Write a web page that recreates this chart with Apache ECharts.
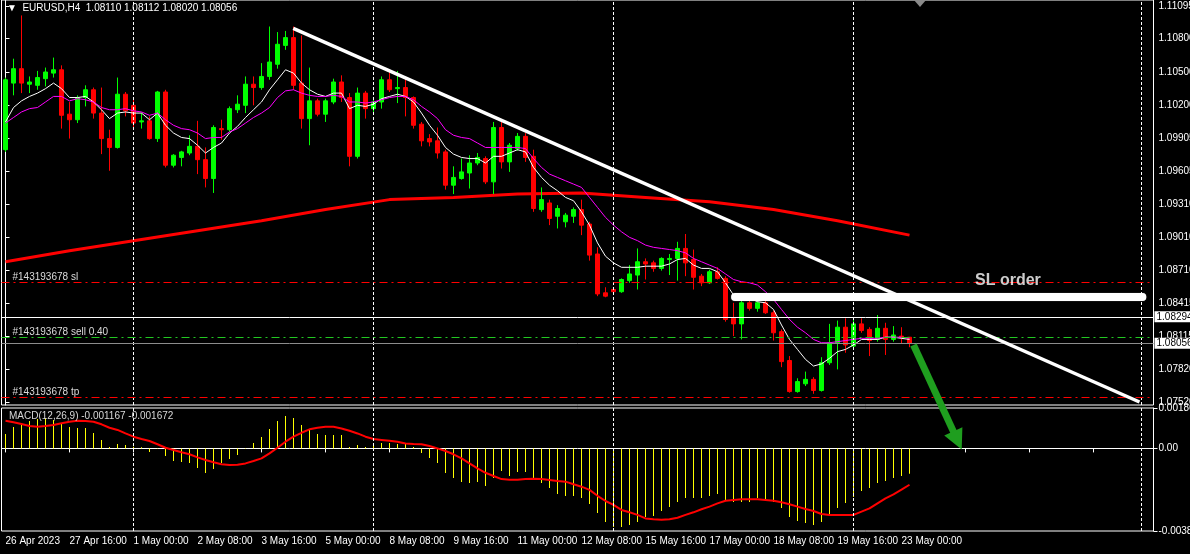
<!DOCTYPE html>
<html><head><meta charset="utf-8">
<script src="https://cdn.jsdelivr.net/npm/echarts@6/dist/echarts.min.js"></script>
<style>html,body{margin:0;padding:0;background:#000;overflow:hidden;}#c{width:1190px;height:554px;}</style>
</head><body><div id="c"></div>
<script>
// ---------------- DATA ----------------
const symbolName = 'EURUSD,H4';
const slotCount = 144; // H4 bar slots shown on the time axis (data + empty right margin)
const timeTickLabels = ['26 Apr 2023','27 Apr 16:00','1 May 00:00','2 May 08:00','3 May 16:00','5 May 00:00','8 May 08:00','9 May 16:00','11 May 00:00','12 May 08:00','15 May 16:00','17 May 00:00','18 May 08:00','19 May 16:00','23 May 00:00'];
const priceTicks = [1.11095,1.10800,1.10500,1.10200,1.09905,1.09605,1.09310,1.09010,1.08710,1.08415,1.08115,1.07820,1.07520];
const macdTicks = [0.00186, 0, -0.00380];

const opens = [1.0980,1.1040,1.1053,1.1039,1.1038,1.1044,1.1049,1.1052,1.1012,1.1007,
1.1027,1.1034,1.1013,1.0990,1.0982,1.1030,1.1020,1.1005,1.1006,1.0990,
1.1032,1.0966,1.0973,1.0977,1.0983,1.0971,1.0954,1.0999,1.0998,1.1016,
1.1020,1.1039,1.1036,1.1046,1.1057,1.1074,1.1081,1.1040,1.1008,1.1024,
1.1012,1.1023,1.1041,1.1027,1.0974,1.1031,1.1017,1.1023,1.1043,1.1035,
1.1036,1.1027,1.1003,1.0990,1.0988,1.0978,1.0948,1.0954,1.0959,1.0968,
1.0972,1.0951,1.1000,1.0969,1.0981,1.0992,1.0974,1.0926,1.0932,1.0920,
1.0915,1.0920,1.0926,1.0913,1.0886,1.0851,1.0854,1.0852,1.0862,1.0867,
1.0879,1.0878,1.0873,1.0881,1.0882,1.0891,1.0881,1.0866,1.0860,1.0870,
1.0864,1.0828,1.0823,1.0842,1.0837,1.0842,1.0833,1.0816,1.0790,1.0762,
1.0769,1.0773,1.0763,1.0788,1.0806,1.0820,1.0803,1.0823,1.0818,1.0809,
1.0819,1.0809,1.0812,1.08110];
const closes = [1.1043,1.1053,1.1040,1.1041,1.1045,1.1050,1.1052,1.1011,1.1007,1.1027,
1.1034,1.1013,1.0990,1.0982,1.1030,1.1015,1.1004,1.1006,1.0990,1.1032,
1.0966,1.0975,1.0978,1.0983,1.0971,1.0954,1.1000,1.0998,1.1017,1.1021,
1.1039,1.1036,1.1046,1.1059,1.1075,1.1081,1.1038,1.1008,1.1024,1.1012,
1.1024,1.1041,1.1027,1.0974,1.1031,1.1017,1.1023,1.1043,1.1034,1.1036,
1.1027,1.1002,1.0988,1.0987,1.0977,1.0948,1.0955,1.0960,1.0968,1.0973,
1.0951,1.1000,1.0969,1.0984,1.0992,1.0973,1.0927,1.0935,1.0918,1.0927,
1.0921,1.0926,1.0912,1.0885,1.0850,1.0848,1.0852,1.0863,1.0868,1.0879,
1.0877,1.0873,1.0882,1.0882,1.0891,1.0878,1.0865,1.0860,1.0870,1.0864,
1.0827,1.0823,1.0842,1.0837,1.0842,1.0833,1.0815,1.0789,1.0762,1.0771,
1.0773,1.0763,1.0788,1.0806,1.0820,1.0804,1.0823,1.0817,1.0808,1.0819,
1.0809,1.0813,1.0811,1.08056];
const highs = [1.1045,1.1062,1.1101,1.1046,1.1051,1.1054,1.1063,1.1056,1.1023,1.1029,
1.1038,1.1036,1.1036,1.0998,1.1045,1.1032,1.1025,1.1013,1.1010,1.1033,
1.1034,1.0976,1.0979,1.0993,1.1006,1.0982,1.1002,1.1007,1.1019,1.1029,
1.1046,1.1046,1.1058,1.1091,1.1086,1.1087,1.1091,1.1083,1.1054,1.1026,
1.1026,1.1044,1.1047,1.1031,1.1036,1.1033,1.1025,1.1046,1.1050,1.1051,
1.1045,1.1028,1.1005,1.0994,1.1000,1.0980,1.0965,1.0972,1.0975,1.0977,
1.0974,1.1005,1.1005,1.0986,1.0995,1.0995,1.0980,1.0946,1.0935,1.0930,
1.0923,1.0928,1.0935,1.0915,1.0892,1.0856,1.0856,1.0864,1.0876,1.0891,
1.0882,1.0880,1.0883,1.0886,1.0897,1.0904,1.0890,1.0868,1.0872,1.0874,
1.0866,1.0842,1.0845,1.0845,1.0845,1.0845,1.0835,1.0818,1.0794,1.0774,
1.0780,1.0775,1.0793,1.0823,1.0826,1.0828,1.0827,1.0828,1.0820,1.0831,
1.0824,1.0821,1.0820,1.08112];
const lows = [1.0978,1.1029,1.1031,1.1031,1.1034,1.1037,1.1045,1.0999,1.0990,1.1004,
1.1019,1.1008,1.0976,1.0961,1.0981,1.1010,1.0999,1.0999,1.0989,1.0987,
1.0964,1.0964,1.0965,1.0975,1.0958,1.0946,1.0941,1.0989,1.0996,1.1013,
1.1013,1.1020,1.1034,1.1043,1.1053,1.1070,1.1034,1.0999,1.0984,1.1010,
1.1005,1.1021,1.1023,1.0965,1.0972,1.1008,1.1014,1.1017,1.1032,1.1022,
1.1010,1.0999,1.0983,1.0983,1.0972,1.0944,1.0940,1.0953,1.0945,1.0966,
1.0949,1.0940,1.0963,1.0960,1.0979,1.0969,1.0924,1.0924,1.0912,1.0909,
1.0910,1.0914,1.0903,1.0880,1.0848,1.0847,1.0850,1.0851,1.0860,1.0854,
1.0863,1.0870,1.0871,1.0867,1.0862,1.0866,1.0854,1.0857,1.0859,1.0863,
1.0825,1.0812,1.0809,1.0835,1.0834,1.0832,1.0808,1.0784,1.0761,1.0761,
1.0767,1.0760,1.0762,1.0786,1.0782,1.0797,1.0801,1.0815,1.0794,1.0807,
1.0795,1.0807,1.0805,1.08020];

const fastMA = [1.1005,1.1018,1.1024,1.1028,1.1031,1.1035,1.1040,1.1035,1.1027,1.1027,
1.1028,1.1023,1.1016,1.1008,1.1013,1.1014,1.1013,1.1013,1.1007,1.1013,
1.1002,1.0995,1.0991,1.0990,1.0984,1.0977,1.0982,1.0986,1.0995,1.1001,
1.1009,1.1016,1.1023,1.1034,1.1043,1.1052,1.1049,1.1040,1.1034,1.1030,
1.1028,1.1031,1.1031,1.1017,1.1020,1.1019,1.1021,1.1026,1.1028,1.1030,
1.1028,1.1023,1.1013,1.1002,1.0993,1.0982,1.0976,1.0973,1.0972,1.0972,
1.0968,1.0974,1.0974,1.0977,1.0980,1.0978,1.0964,1.0955,1.0948,1.0943,
1.0937,1.0934,1.0924,1.0912,1.0896,1.0884,1.0878,1.0874,1.0874,1.0874,
1.0875,1.0875,1.0875,1.0877,1.0881,1.0882,1.0876,1.0873,1.0873,1.0870,
1.0860,1.0849,1.0846,1.0846,1.0843,1.0842,1.0836,1.0822,1.0809,1.0800,
1.0791,1.0785,1.0787,1.0792,1.0798,1.0800,1.0804,1.0809,1.0809,1.0809,
1.0811,1.0811,1.0810,1.0809];
const slowMA = [1.1004,1.1009,1.1014,1.1017,1.1018,1.1023,1.1028,1.1028,1.1024,1.1026,
1.1025,1.1023,1.1018,1.1016,1.1016,1.1017,1.1015,1.1014,1.1011,1.1013,
1.1007,1.1002,1.0999,1.0998,1.0995,1.0990,1.0991,1.0991,1.0996,1.0999,
1.1004,1.1009,1.1013,1.1018,1.1027,1.1033,1.1034,1.1031,1.1029,1.1028,
1.1028,1.1029,1.1028,1.1023,1.1023,1.1022,1.1023,1.1025,1.1027,1.1028,
1.1028,1.1025,1.1019,1.1014,1.1008,1.0998,1.0993,1.0991,1.0990,1.0986,
1.0982,1.0982,1.0982,1.0982,1.0982,1.0981,1.0972,1.0964,1.0958,1.0955,
1.0952,1.0949,1.0946,1.0937,1.0928,1.0919,1.0912,1.0906,1.0901,1.0898,
1.0894,1.0892,1.0891,1.0890,1.0889,1.0887,1.0882,1.0879,1.0876,1.0873,
1.0868,1.0863,1.0861,1.0860,1.0858,1.0852,1.0845,1.0836,1.0827,1.0820,
1.0815,1.0809,1.0806,1.0806,1.0807,1.0808,1.0809,1.0810,1.0810,1.0810,
1.0811,1.0811,1.0811,1.0810];
const ma200Bars = [0,8,16,24,32,40,48,56,64,72,80,88,96,104,113];
const ma200Vals = [1.0879,1.0889,1.0898,1.0907,1.0916,1.0926,1.0935,1.0937,1.0940,1.0941,1.0937,1.0933,1.0926,1.0916,1.0903];

const macdHist = [0.00066,0.00098,0.00108,0.00126,0.00135,0.00140,0.00131,0.00117,0.00098,0.00094,
0.00094,0.00071,0.00039,0.00006,0.00020,0.00016,0.00008,0.00005,-0.00017,0.00002,
-0.00035,-0.00058,-0.00062,-0.00067,-0.00090,-0.00113,-0.00095,-0.00067,-0.00049,-0.00030,
0.00002,0.00025,0.00052,0.00089,0.00126,0.00149,0.00140,0.00108,0.00085,0.00066,
0.00062,0.00062,0.00062,0.00006,0.00016,0.00006,0.00020,0.00025,0.00025,0.00020,
0.00020,0.00006,-0.00021,-0.00044,-0.00067,-0.00113,-0.00136,-0.00155,-0.00159,-0.00155,
-0.00173,-0.00136,-0.00104,-0.00127,-0.00109,-0.00109,-0.00136,-0.00159,-0.00182,-0.00210,
-0.00219,-0.00219,-0.00228,-0.00256,-0.00297,-0.00339,-0.00362,-0.00362,-0.00352,-0.00339,
-0.00316,-0.00311,-0.00288,-0.00270,-0.00247,-0.00228,-0.00228,-0.00228,-0.00219,-0.00210,
-0.00237,-0.00247,-0.00247,-0.00247,-0.00228,-0.00237,-0.00247,-0.00274,-0.00316,-0.00334,
-0.00343,-0.00352,-0.00339,-0.00306,-0.00274,-0.00251,-0.00224,-0.00196,-0.00182,-0.00159,
-0.00150,-0.00136,-0.00127,-0.001167];
const macdSignal = [0.00127,0.00120,0.00112,0.00103,0.00100,0.00103,0.00108,0.00116,0.00123,0.00127,
0.00126,0.00123,0.00111,0.00095,0.00085,0.00069,0.00054,0.00043,0.00034,0.00019,
0.00003,-0.00007,-0.00018,-0.00027,-0.00041,-0.00053,-0.00064,-0.00073,-0.00076,-0.00075,
-0.00069,-0.00058,-0.00046,-0.00023,0.00003,0.00031,0.00054,0.00072,0.00088,0.00095,
0.00100,0.00100,0.00092,0.00081,0.00069,0.00054,0.00043,0.00039,0.00035,0.00031,
0.00023,0.00020,0.00019,0.00011,0.00000,-0.00012,-0.00027,-0.00046,-0.00069,-0.00092,
-0.00112,-0.00127,-0.00141,-0.00144,-0.00144,-0.00141,-0.00139,-0.00141,-0.00145,-0.00150,
-0.00153,-0.00165,-0.00176,-0.00191,-0.00218,-0.00242,-0.00260,-0.00283,-0.00294,-0.00306,
-0.00322,-0.00326,-0.00328,-0.00326,-0.00319,-0.00306,-0.00294,-0.00280,-0.00268,-0.00253,
-0.00241,-0.00237,-0.00234,-0.00234,-0.00234,-0.00237,-0.00241,-0.00248,-0.00257,-0.00268,
-0.00279,-0.00288,-0.00302,-0.00306,-0.00306,-0.00306,-0.00306,-0.00291,-0.00276,-0.00253,
-0.00230,-0.00211,-0.00190,-0.001672];

const separatorBars = [16, 46, 76, 106, 142];
const orderNames = ['#143193678 sl', '#143193678 sell 0.40', '#143193678 tp'];
const orderPrices = [1.08603, 1.08107, 1.07567];
const orderColors = ['#ff0000', '#22c822', '#ff0000'];
const boxedPrices = [1.08294, 1.08056];
const boxedLineColors = ['#ffffff', '#8c8c8c'];
const trendLine = [[35.97, 1.10893], [141.75, 1.07526]];
const slBar = [[91.2, 1.08479], [142.1, 1.08479]];
const slLabel = {text: 'SL order', at: [125.3, 1.0862]};
const arrowLine = [[113.5, 1.0804], [119.0, 1.0718]];

// ---------------- CHART ----------------
const FONT = 'Liberation Sans, Arial, sans-serif';
const slots = Array.from({length: slotCount}, (_, i) => String(i));
const candles = opens.map((o, i) => [o, closes[i], lows[i], highs[i]]);
const last = opens.length - 1;
const sepData = separatorBars.map(b => ({xAxis: b, lineStyle: {color: '#ffffff', type: [3, 2], width: 1}, label: {show: false}}));
const orderData = orderPrices.map((p, i) => ({
  yAxis: p,
  lineStyle: {color: orderColors[i], type: [8, 4, 2, 4], width: 1},
  label: {show: true, position: 'insideStartTop', formatter: orderNames[i], color: '#dcdcdc', fontSize: 10, fontFamily: FONT, distance: [11, 0]}
}));
const boxData = boxedPrices.map((p, i) => ({
  yAxis: p,
  lineStyle: {color: boxedLineColors[i], type: 'solid', width: 1},
  label: {show: true, position: 'end', formatter: p.toFixed(5), backgroundColor: '#ffffff', color: '#000000', padding: [1, 3, 0, 2], fontSize: 10, fontFamily: FONT, distance: 1}
}));

const chart = echarts.init(document.getElementById('c'), null, {width: 1190, height: 554});
const option = {
  backgroundColor: '#000000',
  animation: false,
  textStyle: {fontFamily: FONT},
  grid: [
    {left: 1.5, width: 1152, top: 0, height: 405, outerBoundsMode: 'none', containLabel: false, show: true, borderColor: '#ffffff', borderWidth: 1, backgroundColor: '#000'},
    {left: 1.5, width: 1152, top: 408, height: 123, outerBoundsMode: 'none', containLabel: false, show: true, borderColor: '#ffffff', borderWidth: 1, backgroundColor: '#000'}
  ],
  xAxis: [
    {type: 'category', gridIndex: 0, data: slots, boundaryGap: true, show: false},
    {type: 'category', gridIndex: 1, data: slots, boundaryGap: true,
      axisLine: {show: true, lineStyle: {color: '#ffffff'}},
      axisTick: {show: true, interval: 7, alignWithLabel: true, length: 4, lineStyle: {color: '#ffffff'}},
      axisLabel: {show: true, interval: 7, align: 'left', margin: 5, color: '#ffffff', fontSize: 10, fontFamily: FONT,
        formatter: (v, idx) => (idx % 8 === 0 && timeTickLabels[idx / 8]) ? timeTickLabels[idx / 8] : ''},
      splitLine: {show: false}},
    {type: 'value', gridIndex: 0, min: -0.5, max: slotCount - 0.5, show: false}
  ],
  yAxis: [
    {type: 'value', gridIndex: 0, position: 'right', min: 1.07499, max: 1.11149, scale: true,
      axisLine: {show: true, lineStyle: {color: '#ffffff'}},
      axisTick: {show: true, customValues: priceTicks, length: 4, lineStyle: {color: '#ffffff'}},
      axisLabel: {customValues: priceTicks, formatter: v => v.toFixed(5), color: '#ffffff', fontSize: 10, fontFamily: FONT, margin: 5},
      splitLine: {show: false}},
    {type: 'value', gridIndex: 1, position: 'right', min: -0.0038, max: 0.00186,
      axisLine: {show: true, lineStyle: {color: '#ffffff'}},
      axisTick: {show: true, customValues: macdTicks, length: 4, lineStyle: {color: '#ffffff'}},
      axisLabel: {customValues: macdTicks, formatter: v => (v === 0 ? '0.00' : v.toFixed(5)), color: '#ffffff', fontSize: 10, fontFamily: FONT, margin: 5},
      splitLine: {show: false}}
  ],
  series: [
    {type: 'line', name: 'MA200', xAxisIndex: 2, yAxisIndex: 0, data: ma200Bars.map((b, i) => [b, ma200Vals[i]]),
      showSymbol: false, symbol: 'none', lineStyle: {color: '#ff0000', width: 3}, z: 2},
    {type: 'candlestick', name: symbolName, xAxisIndex: 0, yAxisIndex: 0, data: candles, barWidth: 4,
      itemStyle: {color: '#00ff00', color0: '#ff0000', borderColor: '#00ff00', borderColor0: '#ff0000', borderColorDoji: '#00ff00', borderWidth: 1},
      z: 3,
      markLine: {silent: true, precision: 6, symbol: ['none', 'none'], animation: false, data: [...sepData, ...orderData, ...boxData]}},
    {type: 'line', name: 'fast', xAxisIndex: 0, yAxisIndex: 0, data: fastMA, showSymbol: false, symbol: 'none',
      lineStyle: {color: '#ffffff', width: 1}, z: 4},
    {type: 'line', name: 'slow', xAxisIndex: 0, yAxisIndex: 0, data: slowMA, showSymbol: false, symbol: 'none',
      lineStyle: {color: '#ff00ff', width: 1}, z: 4},
    {type: 'lines', coordinateSystem: 'cartesian2d', xAxisIndex: 2, yAxisIndex: 0, z: 6, clip: false,
      data: [{coords: trendLine}], lineStyle: {color: '#ffffff', width: 3.5, opacity: 1}},
    {type: 'lines', coordinateSystem: 'cartesian2d', xAxisIndex: 2, yAxisIndex: 0, z: 6, clip: false,
      data: [{coords: slBar}], lineStyle: {color: '#ffffff', width: 8, cap: 'round', opacity: 1, shadowColor: '#9a9a9a', shadowBlur: 1}},
    {type: 'lines', coordinateSystem: 'cartesian2d', xAxisIndex: 2, yAxisIndex: 0, z: 7, clip: false,
      symbol: ['none', 'triangle'], symbolSize: [0, 20],
      data: [{coords: arrowLine}], lineStyle: {color: '#1f9e1f', width: 7, opacity: 1}},
    {type: 'scatter', xAxisIndex: 2, yAxisIndex: 0, z: 8, data: [slLabel.at], symbolSize: 1,
      itemStyle: {color: 'rgba(0,0,0,0)'},
      label: {show: true, position: 'inside', formatter: slLabel.text, color: '#ffffff', fontSize: 16, fontWeight: 'bold', fontFamily: FONT}},
    {type: 'bar', name: 'MACD', xAxisIndex: 1, yAxisIndex: 1, data: macdHist, barWidth: 1,
      itemStyle: {color: '#ffff00'},
      markLine: {silent: true, precision: 6, symbol: ['none', 'none'], animation: false, data: sepData}},
    {type: 'line', name: 'Signal', xAxisIndex: 1, yAxisIndex: 1, data: macdSignal, showSymbol: false, symbol: 'none',
      lineStyle: {color: '#ff0000', width: 2}, z: 4}
  ],
  graphic: [
    {type: 'text', left: 7, top: 3, z: 20, style: {text: '\u25BC  ' + symbolName + '  ' + [opens[last], highs[last], lows[last], closes[last]].map(v => v.toFixed(5)).join(' '), fill: '#ffffff', font: '10px ' + FONT}},
    {type: 'text', left: 9, top: 411, z: 20, style: {text: 'MACD(12,26,9) ' + macdHist[last].toFixed(6) + ' ' + macdSignal[last].toFixed(6), fill: '#d8d8d8', font: '10px ' + FONT}},
    {type: 'polygon', z: 20, shape: {points: [[914, 0], [926, 0], [920, 7]]}, style: {fill: '#8a8a8a'}}
  ]
};
chart.setOption(option);
</script>
</body></html>
